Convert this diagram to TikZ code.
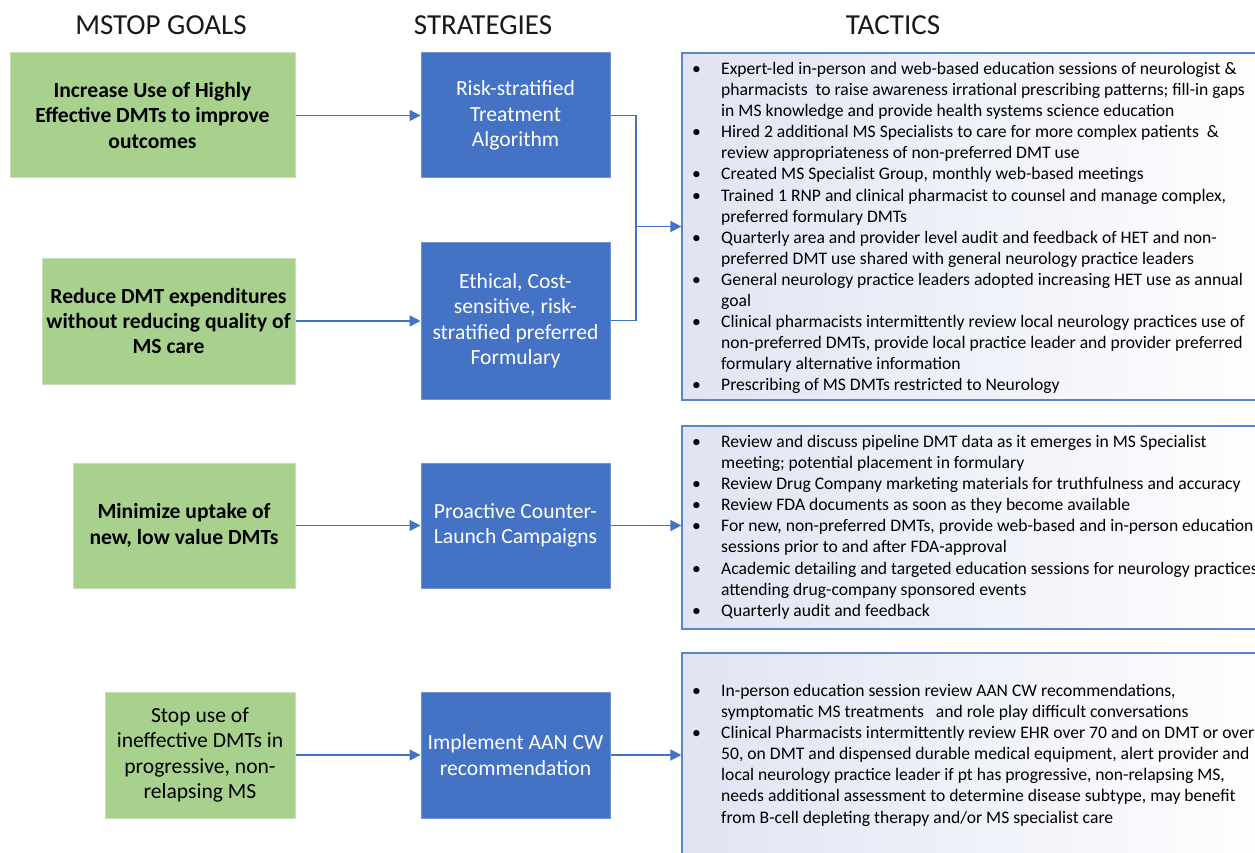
\documentclass[tikz,border=0pt]{standalone}
\usepackage{fontspec}
\setmainfont{Carlito}
\usetikzlibrary{arrows.meta}
\definecolor{gfill}{HTML}{A9D18E}
\definecolor{gborder}{HTML}{C8DEBA}
\definecolor{bfill}{HTML}{4472C4}
\definecolor{bborder}{HTML}{7595D2}
\definecolor{tborder}{HTML}{5B84CC}
\definecolor{tfill}{HTML}{E0E4F3}
\definecolor{lineblue}{HTML}{4472C4}
\newcommand{\bulletrow}[1]{\makebox[31pt][l]{\hspace{2pt}•}&#1\\}
\newcommand{\controw}[1]{&#1\\}
\begin{document}
\begin{tikzpicture}[x=1pt,y=-1pt,
  goal/.style={fill=gfill, draw=gborder, line width=1pt, align=center, inner sep=0pt,
    font=\fontsize{21.6}{25.3}\selectfont\bfseries},
  goalplain/.style={goal, font=\fontsize{21.6}{25.3}\selectfont},
  strat/.style={fill=bfill, draw=bborder, line width=1pt, text=white, align=center, inner sep=0pt,
    font=\fontsize{21.6}{25.5}\selectfont},
  tact/.style={draw=tborder, line width=1.2pt, left color=tfill, right color=white, inner sep=0pt},
  tacttext/.style={anchor=north west, inner sep=0pt, align=left,
    font=\fontsize{17.6}{21.1}\selectfont},
  header/.style={font=\fontsize{29}{34}\selectfont, text=black!90, inner sep=0pt},
  link/.style={draw=lineblue, line width=1.4pt},
  arr/.style={link, -{Triangle[length=11pt,width=11pt]}}
]
\useasboundingbox (0,0) rectangle (1255,853);
\clip (0,0) rectangle (1255,853);
\fill[white] (0,0) rectangle (1255,853);

% headers
\node[header] (h1) at (161,25) {MSTOP GOALS};
\node[header] (h2) at (483,25) {STRATEGIES};
\node[header] (h3) at (893,25) {TACTICS};

% goals
\node[goal, minimum width=285pt, minimum height=125pt] (g1) at (152.5,115.5)
  {Increase Use of Highly\\Effective DMTs to improve\\outcomes};
\node[goal, minimum width=253pt, minimum height=126pt] (g2) at (168.5,321)
  {Reduce DMT expenditures\\without reducing quality of\\MS care};
\node[goal, minimum width=222pt, minimum height=125pt] (g3) at (184,525.5)
  {Minimize uptake of\\new, low value DMTs};
\node[goalplain, minimum width=190pt, minimum height=126pt] (g4) at (200,755)
  {Stop use of\\ineffective DMTs in\\progressive, non-\\relapsing MS};

% strategies
\node[strat, minimum width=189pt, minimum height=125pt] (s1) at (515.5,115.5)
  {Risk-stratified\\Treatment\\Algorithm};
\node[strat, minimum width=189pt, minimum height=157pt] (s2) at (515.5,320.5)
  {Ethical, Cost-\\sensitive, risk-\\stratified preferred\\Formulary};
\node[strat, minimum width=189pt, minimum height=125pt] (s3) at (515.5,525.5)
  {Proactive Counter-\\Launch Campaigns};
\node[strat, minimum width=189pt, minimum height=126pt] (s4) at (515.5,755)
  {Implement AAN CW\\recommendation};

% tactics boxes
\node[tact, minimum width=593pt, minimum height=347pt] (t1) at (978.5,226.5) {};
\node[tact, minimum width=593pt, minimum height=203pt] (t2) at (978.5,527.5) {};
\node[tact, minimum width=593pt, minimum height=204pt] (t3) at (978.5,755) {};

\node[tacttext] (t1text) at (690,59.5) {\begin{tabular}{@{}l@{}l@{}}
\bulletrow{Expert-led in-person and web-based education sessions of neurologist \&}
\controw{pharmacists\ \ to raise awareness irrational prescribing patterns; fill-in gaps}
\controw{in MS knowledge and provide health systems science education}
\bulletrow{Hired 2 additional MS Specialists to care for more complex patients\ \ \&}
\controw{review appropriateness of non-preferred DMT use}
\bulletrow{Created MS Specialist Group, monthly web-based meetings}
\bulletrow{Trained 1 RNP and clinical pharmacist to counsel and manage complex,}
\controw{preferred formulary DMTs}
\bulletrow{Quarterly area and provider level audit and feedback of HET and non-}
\controw{preferred DMT use shared with general neurology practice leaders}
\bulletrow{General neurology practice leaders adopted increasing HET use as annual}
\controw{goal}
\bulletrow{Clinical pharmacists intermittently review local neurology practices use of}
\controw{non-preferred DMTs, provide local practice leader and provider preferred}
\controw{formulary alternative information}
\bulletrow{Prescribing of MS DMTs restricted to Neurology}
\end{tabular}};

\node[tacttext] (t2text) at (690,432.5) {\begin{tabular}{@{}l@{}l@{}}
\bulletrow{Review and discuss pipeline DMT data as it emerges in MS Specialist}
\controw{meeting; potential placement in formulary}
\bulletrow{Review Drug Company marketing materials for truthfulness and accuracy}
\bulletrow{Review FDA documents as soon as they become available}
\bulletrow{For new, non-preferred DMTs, provide web-based and in-person education}
\controw{sessions prior to and after FDA-approval}
\bulletrow{Academic detailing and targeted education sessions for neurology practices}
\controw{attending drug-company sponsored events}
\bulletrow{Quarterly audit and feedback}
\end{tabular}};

\node[tacttext] (t3text) at (690,681.5) {\begin{tabular}{@{}l@{}l@{}}
\bulletrow{In-person education session review AAN CW recommendations,}
\controw{symptomatic MS treatments\ \ \ and role play difficult conversations}
\bulletrow{Clinical Pharmacists intermittently review EHR over 70 and on DMT or over}
\controw{50, on DMT and dispensed durable medical equipment, alert provider and}
\controw{local neurology practice leader if pt has progressive, non-relapsing MS,}
\controw{needs additional assessment to determine disease subtype, may benefit}
\controw{from B-cell depleting therapy and/or MS specialist care}
\end{tabular}};

% connectors
\draw[arr] (g1.east) -- (g1.east -| s1.west);
\draw[arr] (g2.east) -- (g2.east -| s2.west);
\draw[arr] (g3.east) -- (g3.east -| s3.west);
\draw[arr] (g4.east) -- (g4.east -| s4.west);

\coordinate (j) at (636,226.5);
\draw[link] (s1.east) -| (j);
\draw[link] (s2.east) -| (j);
\draw[arr] (j) -- (t1.west);
\draw[arr] (s3.east) -- (s3.east -| t2.west);
\draw[arr] (s4.east) -- (s4.east -| t3.west);
\end{tikzpicture}
\end{document}
